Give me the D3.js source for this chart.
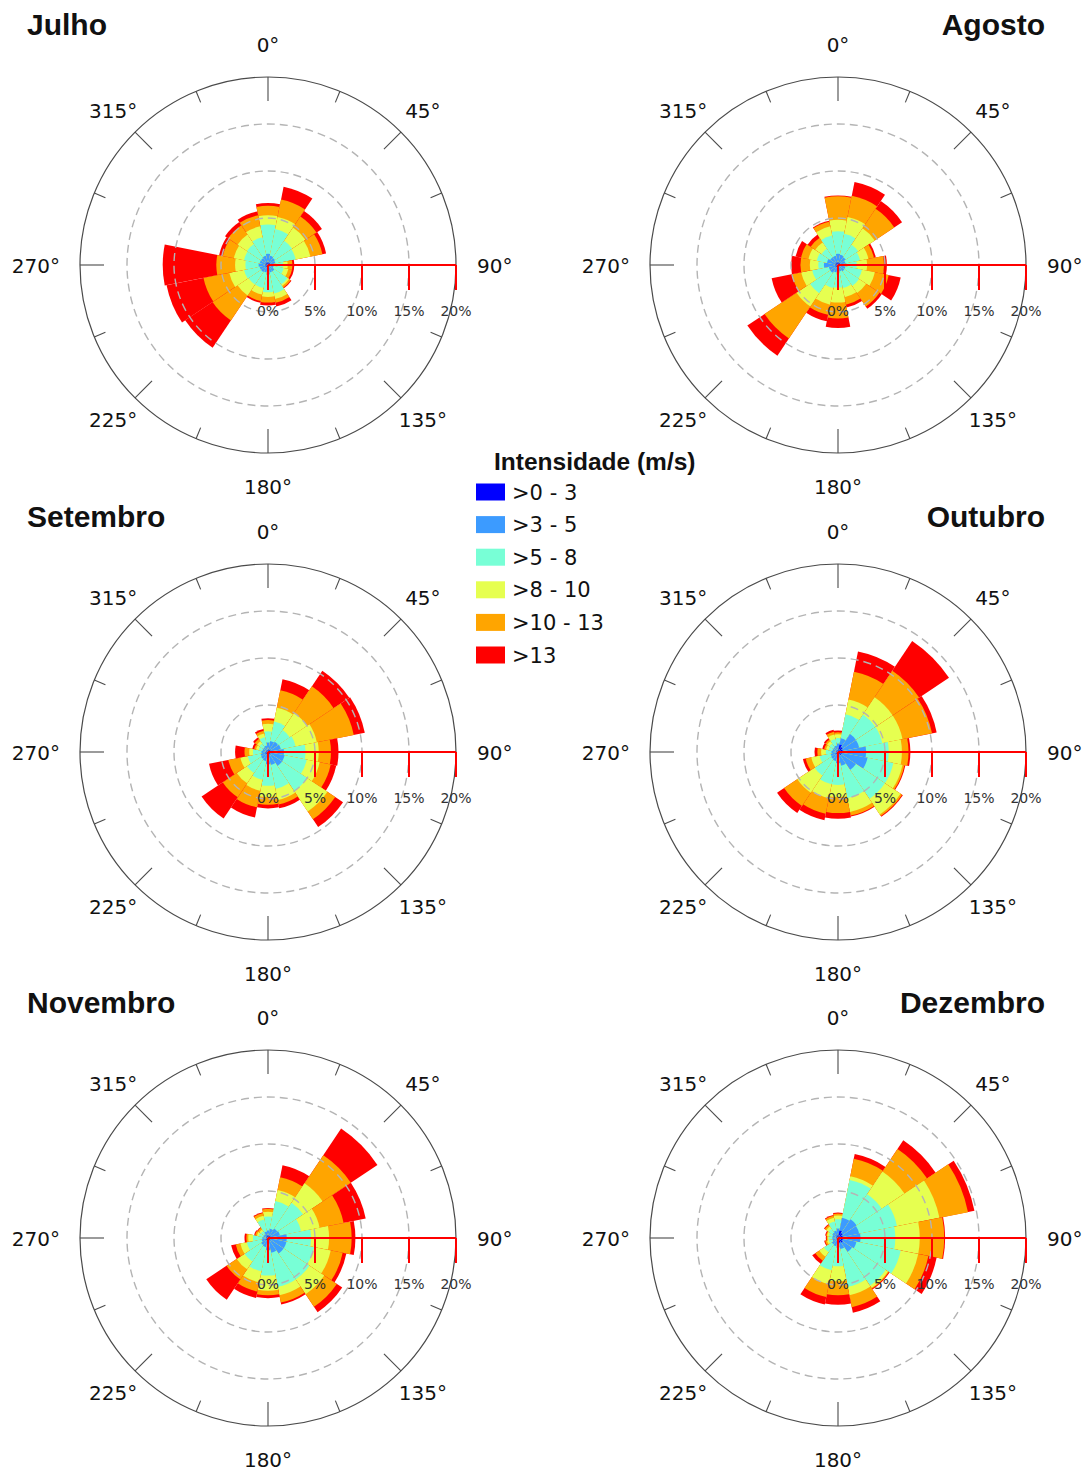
<!DOCTYPE html>
<html>
<head>
<meta charset="utf-8">
<script src="https://cdn.jsdelivr.net/npm/d3@7"></script>
<style>
  html, body { margin: 0; padding: 0; background: #fff; }
  svg { display: block; }
</style>
</head>
<body>
<svg id="chart" width="1090" height="1470"></svg>
<script>
// Direction sectors (16 points, bearing in degrees clockwise from north)
const directions = ["N","NNE","NE","ENE","E","ESE","SE","SSE","S","SSW","SW","WSW","W","WNW","NW","NNW"];
const bearings = [0,22.5,45,67.5,90,112.5,135,157.5,180,202.5,225,247.5,270,292.5,315,337.5];

// Wind speed classes (m/s)
const speedClasses = [">0 - 3", ">3 - 5", ">5 - 8", ">8 - 10", ">10 - 13", ">13"];
const classColors = ["#0000ff", "#3c9bff", "#78ffd6", "#e6ff50", "#ffa500", "#ff0000"];

// Radial axis ticks (% frequency)
const radialTicks = [0, 5, 10, 15, 20];
const tickLabels = ["0%", "5%", "10%", "15%", "20%"];
const compassAngles = [0, 45, 90, 135, 180, 225, 270, 315];
const compassLabels = ["0°", "45°", "90°", "135°", "180°", "225°", "270°", "315°"];

// Frequency (%) per direction (rows, N..NNW) and speed class (columns)
const julho = [
  [0.3, 0.9, 3.1, 1.0, 1.0, 0.3],
  [0.3, 0.7, 2.9, 1.3, 1.9, 1.4],
  [0.3, 0.6, 2.2, 1.7, 1.4, 0.7],
  [0.2, 0.6, 2.2, 1.6, 1.3, 0.4],
  [0.2, 0.4, 1.0, 0.5, 0.5, 0.2],
  [0.2, 0.4, 1.1, 0.5, 0.4, 0.2],
  [0.2, 0.6, 1.7, 0.2, 0.2, 0.1],
  [0.2, 0.6, 2.3, 0.6, 0.4, 0.4],
  [0.2, 0.8, 1.9, 0.5, 0.6, 0.3],
  [0.2, 0.6, 1.7, 0.7, 0.7, 0.2],
  [0.3, 0.6, 1.6, 1.4, 3.2, 3.5],
  [0.3, 0.6, 1.7, 1.6, 2.8, 4.0],
  [0.3, 0.7, 1.4, 1.1, 2.0, 5.7],
  [0.3, 0.6, 1.7, 1.1, 1.2, 0.4],
  [0.3, 0.6, 1.8, 1.2, 1.2, 0.4],
  [0.3, 0.7, 2.0, 1.2, 1.2, 0.4]
];
const agosto = [
  [0.3, 0.9, 2.4, 1.2, 2.5, 0.1],
  [0.3, 0.8, 2.3, 1.8, 2.3, 1.5],
  [0.3, 0.7, 1.6, 2.1, 2.5, 1.0],
  [0.2, 0.6, 1.6, 0.9, 0.6, 0.2],
  [0.2, 0.7, 1.1, 1.1, 1.8, 0.3],
  [0.2, 0.6, 1.8, 1.4, 1.5, 1.3],
  [0.2, 0.6, 1.9, 0.9, 1.7, 0.3],
  [0.2, 0.5, 1.8, 1.0, 0.8, 0.3],
  [0.2, 0.6, 1.6, 1.6, 1.7, 1.0],
  [0.2, 0.6, 1.7, 1.8, 1.1, 0.7],
  [0.3, 0.7, 2.6, 1.7, 4.1, 2.2],
  [0.3, 0.7, 1.8, 1.2, 1.0, 2.2],
  [0.3, 1.2, 0.6, 0.9, 1.0, 1.0],
  [0.3, 0.9, 1.1, 0.9, 0.8, 0.6],
  [0.3, 0.7, 1.1, 0.8, 0.6, 0.4],
  [0.3, 0.7, 2.2, 1.0, 0.5, 0.1]
];
const setembro = [
  [0.3, 0.7, 1.2, 0.8, 0.4, 0.2],
  [0.3, 0.9, 2.1, 1.5, 1.9, 1.2],
  [0.3, 1.0, 1.5, 2.2, 3.4, 2.0],
  [0.3, 1.1, 1.6, 2.3, 4.0, 1.2],
  [0.3, 1.4, 2.3, 1.4, 1.3, 0.8],
  [0.3, 1.5, 2.4, 1.4, 1.2, 0.6],
  [0.3, 1.5, 3.2, 2.6, 1.0, 1.0],
  [0.3, 1.1, 2.6, 1.2, 0.5, 0.4],
  [0.3, 1.0, 2.3, 1.2, 0.8, 0.4],
  [0.3, 0.7, 2.0, 1.2, 1.8, 1.1],
  [0.3, 0.6, 1.8, 1.3, 1.8, 2.7],
  [0.3, 0.5, 1.4, 0.8, 1.3, 2.1],
  [0.3, 0.4, 0.9, 0.4, 0.5, 1.0],
  [0.2, 0.4, 0.4, 0.3, 0.2, 0.2],
  [0.2, 0.4, 0.5, 0.3, 0.3, 0.2],
  [0.2, 0.5, 0.9, 0.4, 0.3, 0.2]
];
const outubro = [
  [0.4, 0.5, 0.6, 0.4, 0.2, 0.2],
  [0.8, 0.7, 2.6, 1.6, 3.0, 2.2],
  [0.6, 1.7, 2.5, 2.2, 3.4, 3.8],
  [0.5, 1.8, 2.5, 2.2, 3.2, 0.5],
  [0.5, 2.5, 2.4, 1.4, 0.7, 0.2],
  [0.4, 2.8, 2.8, 1.0, 0.2, 0.1],
  [0.4, 1.9, 3.7, 2.0, 0.2, 0.1],
  [0.3, 1.2, 3.5, 1.5, 0.4, 0.1],
  [0.3, 0.9, 2.3, 1.3, 1.7, 0.6],
  [0.3, 0.7, 2.5, 1.5, 1.7, 0.7],
  [0.3, 0.6, 2.1, 2.2, 1.7, 0.9],
  [0.3, 0.5, 1.2, 0.9, 0.6, 0.3],
  [0.2, 0.5, 0.6, 0.5, 0.4, 0.3],
  [0.2, 0.4, 0.4, 0.3, 0.2, 0.2],
  [0.2, 0.4, 0.5, 0.3, 0.2, 0.2],
  [0.2, 0.5, 0.7, 0.5, 0.3, 0.2]
];
const novembro = [
  [0.3, 0.5, 1.5, 0.5, 0.3, 0.1],
  [0.3, 0.7, 3.0, 1.2, 1.4, 1.3],
  [0.3, 0.9, 3.3, 2.5, 3.6, 3.4],
  [0.3, 1.0, 2.3, 2.0, 2.6, 2.4],
  [0.3, 1.7, 2.6, 1.9, 2.4, 0.4],
  [0.3, 1.7, 3.0, 1.8, 1.3, 0.4],
  [0.3, 1.7, 3.3, 1.9, 1.6, 0.7],
  [0.3, 1.3, 3.7, 0.9, 0.8, 0.2],
  [0.3, 1.0, 2.7, 1.6, 0.5, 0.3],
  [0.3, 0.7, 2.6, 1.2, 1.0, 0.7],
  [0.3, 0.6, 2.1, 1.0, 1.3, 2.6],
  [0.3, 0.4, 1.6, 0.7, 0.5, 0.5],
  [0.2, 0.4, 1.0, 0.5, 0.2, 0.2],
  [0.2, 0.3, 0.5, 0.2, 0.2, 0.1],
  [0.2, 0.3, 0.4, 0.2, 0.2, 0.1],
  [0.3, 0.4, 1.3, 0.4, 0.3, 0.1]
];
const dezembro = [
  [0.4, 0.6, 1.0, 0.4, 0.2, 0.1],
  [0.8, 1.4, 4.1, 0.4, 1.9, 0.5],
  [0.6, 1.8, 3.2, 2.9, 2.9, 1.1],
  [0.5, 1.8, 4.1, 4.6, 3.1, 0.7],
  [0.6, 1.8, 3.7, 2.6, 2.6, 0.1],
  [0.5, 1.5, 4.8, 1.9, 1.1, 0.9],
  [0.6, 1.2, 4.3, 0.3, 0.1, 0.1],
  [0.5, 0.7, 4.1, 0.9, 1.3, 0.6],
  [0.4, 0.6, 2.0, 1.6, 1.5, 1.0],
  [0.3, 0.6, 2.6, 1.5, 1.4, 0.8],
  [0.2, 0.6, 1.0, 0.6, 0.5, 0.4],
  [0.2, 0.4, 0.4, 0.2, 0.2, 0.1],
  [0.2, 0.4, 0.4, 0.1, 0.1, 0.1],
  [0.2, 0.4, 0.4, 0.2, 0.1, 0.1],
  [0.2, 0.5, 0.5, 0.3, 0.2, 0.1],
  [0.3, 0.5, 1.0, 0.4, 0.2, 0.1]
];

const monthNames = ["Julho", "Agosto", "Setembro", "Outubro", "Novembro", "Dezembro"];
const monthData = [julho, agosto, setembro, outubro, novembro, dezembro];

// Panel layout
const colX = [268, 838];
const rowY = [265, 752, 1238];
const titleBaseline = [35, 527, 1013];
const sectorWidth = 22.5;

const svg = d3.select("#chart");
const rScale = d3.scaleLinear().domain([0, 20]).range([0, 188]);
const toRad = d => d * Math.PI / 180;
const arc = d3.arc();

const sansFont = "'DejaVu Sans', Verdana, sans-serif";
const boldFont = "'Liberation Sans', Arial, sans-serif";

monthData.forEach((table, m) => {
  const col = m % 2, row = Math.floor(m / 2);
  const cx = colX[col], cy = rowY[row];
  const g = svg.append("g").attr("transform", `translate(${cx},${cy})`);

  // stacked sectors
  const petals = g.append("g");
  table.forEach((freqs, i) => {
    const cum = [0, ...d3.cumsum(freqs)];
    const a0 = toRad(bearings[i] - sectorWidth / 2);
    const a1 = toRad(bearings[i] + sectorWidth / 2);
    // outermost class first so inner classes lie on top
    for (let k = freqs.length - 1; k >= 0; k--) {
      if (freqs[k] <= 0) continue;
      petals.append("path")
        .attr("d", arc({ innerRadius: 0, outerRadius: rScale(cum[k + 1]), startAngle: a0, endAngle: a1 }))
        .attr("fill", classColors[k]);
    }
  });

  // dashed grid circles
  g.selectAll("circle.grid").data([5, 10, 15]).join("circle")
    .attr("class", "grid")
    .attr("r", d => rScale(d))
    .attr("fill", "none")
    .attr("stroke", "#b4b4b4")
    .attr("stroke-width", 1.4)
    .attr("stroke-dasharray", "8,5");

  // outer circle
  g.append("circle")
    .attr("r", rScale(20))
    .attr("fill", "none")
    .attr("stroke", "#4a4a4a")
    .attr("stroke-width", 1.2);

  // compass ticks on the outer circle
  d3.range(16).forEach(i => {
    const a = toRad(i * 22.5);
    const len = i % 2 === 0 ? 24 : 12;
    const R = rScale(20);
    g.append("line")
      .attr("x1", R * Math.sin(a)).attr("y1", -R * Math.cos(a))
      .attr("x2", (R - len) * Math.sin(a)).attr("y2", -(R - len) * Math.cos(a))
      .attr("stroke", "#4a4a4a").attr("stroke-width", 1.1);
  });

  // compass labels
  compassAngles.forEach((ang, i) => {
    const a = toRad(ang);
    const t = g.append("text")
      .attr("font-family", sansFont)
      .attr("font-size", 20)
      .attr("fill", "#111")
      .text(compassLabels[i]);
    if (ang === 90) {
      t.attr("x", 209).attr("y", 8).attr("text-anchor", "start");
    } else if (ang === 270) {
      t.attr("x", -208).attr("y", 8).attr("text-anchor", "end");
    } else {
      const diag = ang % 90 !== 0;
      const R = diag ? 219 : 221;
      t.attr("x", R * Math.sin(a)).attr("y", -R * Math.cos(a) + 7.5).attr("text-anchor", "middle");
    }
  });

  // radial axis (red) with ticks and labels
  const axis = g.append("g");
  axis.append("line")
    .attr("x1", 0).attr("y1", 0).attr("x2", rScale(20)).attr("y2", 0)
    .attr("stroke", "#ff0000").attr("stroke-width", 2.2);
  radialTicks.forEach((v, i) => {
    axis.append("line")
      .attr("x1", rScale(v)).attr("y1", 0).attr("x2", rScale(v)).attr("y2", 25)
      .attr("stroke", "#ff0000").attr("stroke-width", 2);
    axis.append("text")
      .attr("x", rScale(v)).attr("y", 51)
      .attr("text-anchor", "middle")
      .attr("font-family", sansFont)
      .attr("font-size", 14)
      .attr("fill", "#333")
      .text(tickLabels[i]);
  });

  // month title
  svg.append("text")
    .attr("x", col === 0 ? 27 : 1045)
    .attr("y", titleBaseline[row])
    .attr("text-anchor", col === 0 ? "start" : "end")
    .attr("font-family", boldFont)
    .attr("font-weight", "bold")
    .attr("font-size", 30)
    .attr("fill", "#111")
    .text(monthNames[m]);
});

// legend
const legend = svg.append("g");
legend.append("text")
  .attr("x", 494).attr("y", 470)
  .attr("font-family", boldFont)
  .attr("font-weight", "bold")
  .attr("font-size", 24.5)
  .attr("fill", "#111")
  .text("Intensidade (m/s)");
speedClasses.forEach((label, i) => {
  const yc = 492 + i * 32.6;
  legend.append("rect")
    .attr("x", 476).attr("y", yc - 8.5)
    .attr("width", 29).attr("height", 17)
    .attr("fill", classColors[i]);
  legend.append("text")
    .attr("x", 512).attr("y", yc + 7.5)
    .attr("font-family", sansFont)
    .attr("font-size", 21)
    .attr("fill", "#111")
    .text(label);
});
</script>
</body>
</html>
